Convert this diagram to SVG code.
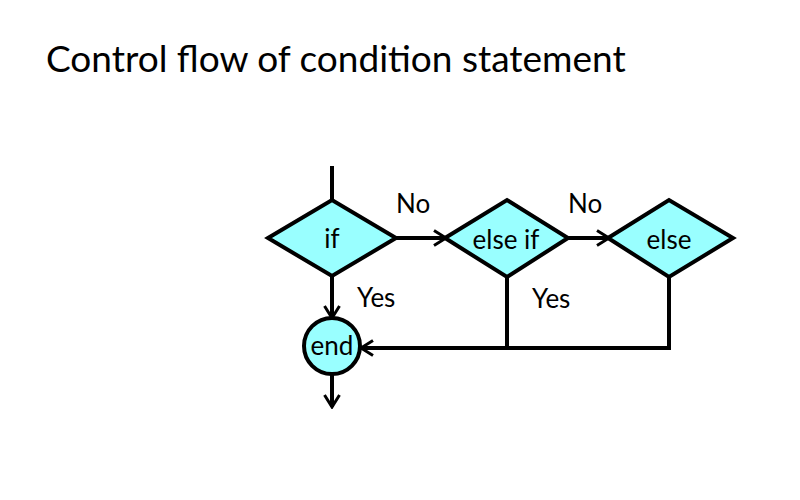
<svg xmlns="http://www.w3.org/2000/svg" width="800" height="500" viewBox="0 0 800 500">
<defs>
<style>
.shape{fill:#99ffff;stroke:#000;stroke-width:4;stroke-linejoin:miter}
.ln{fill:none;stroke:#000;stroke-width:4}
.t{font-family:Lato,"Open Sans",sans-serif;font-size:26px;fill:#000}
.c{text-anchor:middle}
</style>
<marker id="ah" viewBox="0 0 16 18" refX="14" refY="9" markerWidth="16" markerHeight="18" markerUnits="userSpaceOnUse" orient="auto">
<path d="M2,1.5 L14,9 L2,16.5" fill="none" stroke="#000" stroke-width="3"/>
</marker>
</defs>
<rect width="800" height="500" fill="#fff"/>
<text x="46" y="72" font-family="Lato,'Open Sans',sans-serif" font-size="37" fill="#000">Control flow of condition statement</text>
<g id="connectors">
<line class="ln" x1="332" y1="166" x2="332" y2="200"/>
<line class="ln" x1="396" y1="238" x2="446" y2="238" marker-end="url(#ah)"/>
<line class="ln" x1="568" y1="238" x2="609" y2="238" marker-end="url(#ah)"/>
<line class="ln" x1="332" y1="275" x2="332" y2="318" marker-end="url(#ah)"/>
<polyline class="ln" points="507,277 507,348"/>
<polyline class="ln" points="669,277 669,348 361,348" marker-end="url(#ah)"/>
<line class="ln" x1="332" y1="375" x2="332" y2="407" marker-end="url(#ah)"/>
<text class="t" x="396" y="213">No</text>
<text class="t" x="568" y="213">No</text>
<text class="t" x="357" y="307">Yes</text>
<text class="t" x="532" y="308">Yes</text>
</g>
<g id="if">
<polygon class="shape" points="268,238 332,200 396,238 332,276"/>
<text class="t c" x="332" y="248">if</text>
</g>
<g id="elseif">
<polygon class="shape" points="445,238 507,200 568,238 507,277"/>
<text class="t c" x="506" y="249">else if</text>
</g>
<g id="else">
<polygon class="shape" points="608,238 669,200 733,238 669,277"/>
<text class="t c" x="669" y="249">else</text>
</g>
<g id="end">
<circle class="shape" cx="332" cy="346" r="28"/>
<text class="t c" x="332" y="355">end</text>
</g>
</svg>
